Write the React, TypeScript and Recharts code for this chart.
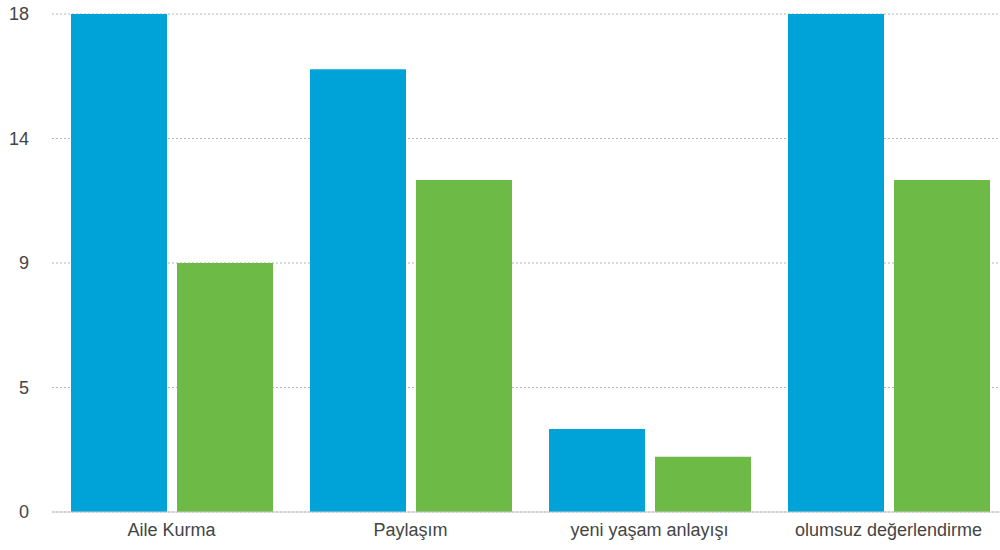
import { BarChart, Bar, XAxis, YAxis, CartesianGrid } from 'recharts'

const categories = ['Aile Kurma', 'Paylaşım', 'yeni yaşam anlayışı', 'olumsuz değerlendirme']
const blueValues = [18, 16, 3, 18]
const greenValues = [9, 12, 2, 12]
const yTicks = [0, 4.5, 9, 13.5, 18]
const yTickLabels = ['0', '5', '9', '14', '18']

const BLUE = '#00a3d7'
const GREEN = '#6dbb46'

const chartData = categories.map((name, i) => ({
  name,
  blue: blueValues[i],
  green: greenValues[i],
}))

const tickStyle = { fontSize: 18, fill: '#444', fontFamily: '"Liberation Sans", Arial, sans-serif' }

export default function App() {
  return (
    <div style={{ position: 'absolute', left: 0, top: 0, width: 1000, height: 550, overflow: 'hidden', background: '#fff' }}>
      <BarChart
        width={1008}
        height={550}
        data={chartData}
        margin={{ top: 14, right: 0, left: 0, bottom: 0 }}
        barCategoryGap={19}
        barGap={10}
      >
        <CartesianGrid vertical={false} stroke="#b5b5b5" strokeDasharray="2 2" />
        <XAxis
          dataKey="name"
          height={38}
          tick={tickStyle}
          tickLine={false}
          tickSize={6}
          tickMargin={5}
          axisLine={{ stroke: '#c8c8c8' }}
        />
        <YAxis
          width={52}
          domain={[0, 18]}
          ticks={yTicks}
          tickFormatter={(v: number) => yTickLabels[yTicks.indexOf(v)] ?? String(v)}
          tick={tickStyle}
          tickLine={false}
          axisLine={false}
          tickSize={0}
          tickMargin={23}
        />
        <Bar dataKey="blue" fill={BLUE} isAnimationActive={false} />
        <Bar dataKey="green" fill={GREEN} isAnimationActive={false} />
      </BarChart>
    </div>
  )
}
